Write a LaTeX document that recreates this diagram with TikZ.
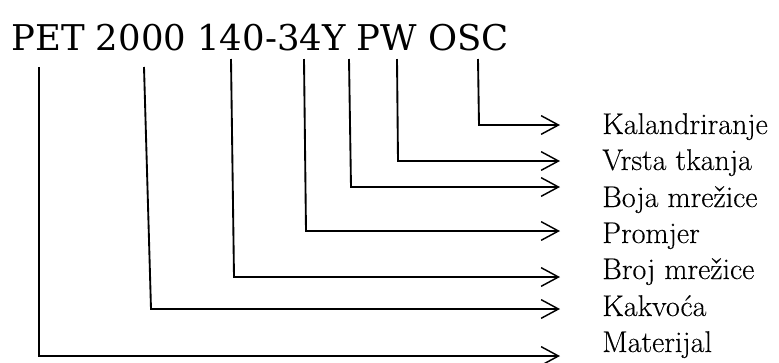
\documentclass[tikz,border=0pt]{standalone}
\usepackage{fontspec}
\newfontfamily\titlefont{DejaVu Serif}
\newfontfamily\labelfont{Latin Modern Roman}[FakeBold=0.25]
\usetikzlibrary{arrows.meta}
\begin{document}
\begin{tikzpicture}[x=0.75pt,y=-0.75pt,
  conn/.style={line width=1.4pt, line join=miter, -{Straight Barb[length=13pt,width=14pt,line width=1.1pt]}},
  lab/.style={anchor=base west, inner sep=0pt, font=\labelfont\fontsize{22.5}{26}\selectfont},
  code/.style={anchor=base west, inner sep=0pt, font=\titlefont\fontsize{26.6}{32}\selectfont}]
\useasboundingbox (0,0) rectangle (779,362);
\node[code] (title) at (11,50) {PET 2000 140-34Y PW OSC};
% label nodes
\node[lab] (l7) at (602,134) {Kalandriranje};
\node[lab] (l6) at (602,170) {Vrsta tkanja};
\node[lab] (l5) at (602,207) {Boja mrežice};
\node[lab] (l4) at (602,243) {Promjer};
\node[lab] (l3) at (602,279) {Broj mrežice};
\node[lab] (l2) at (602,316) {Kakvoća};
\node[lab] (l1) at (602,352) {Materijal};
% connector points
\coordinate (t1) at (39,67);  \coordinate (c1) at (39,356);  \coordinate (e1) at (560,356);
\coordinate (t2) at (144,67); \coordinate (c2) at (151,309); \coordinate (e2) at (560,309);
\coordinate (t3) at (231,59); \coordinate (c3) at (234,277); \coordinate (e3) at (560,277);
\coordinate (t4) at (304,59); \coordinate (c4) at (306,231); \coordinate (e4) at (560,231);
\coordinate (t5) at (349,59); \coordinate (c5) at (351,187); \coordinate (e5) at (560,187);
\coordinate (t6) at (397,59); \coordinate (c6) at (398,161); \coordinate (e6) at (560,161);
\coordinate (t7) at (478,59); \coordinate (c7) at (479,125); \coordinate (e7) at (560,125);
\foreach \i in {1,...,7} {\draw[conn] (t\i) -- (c\i) -- (e\i);}
\end{tikzpicture}
\end{document}
